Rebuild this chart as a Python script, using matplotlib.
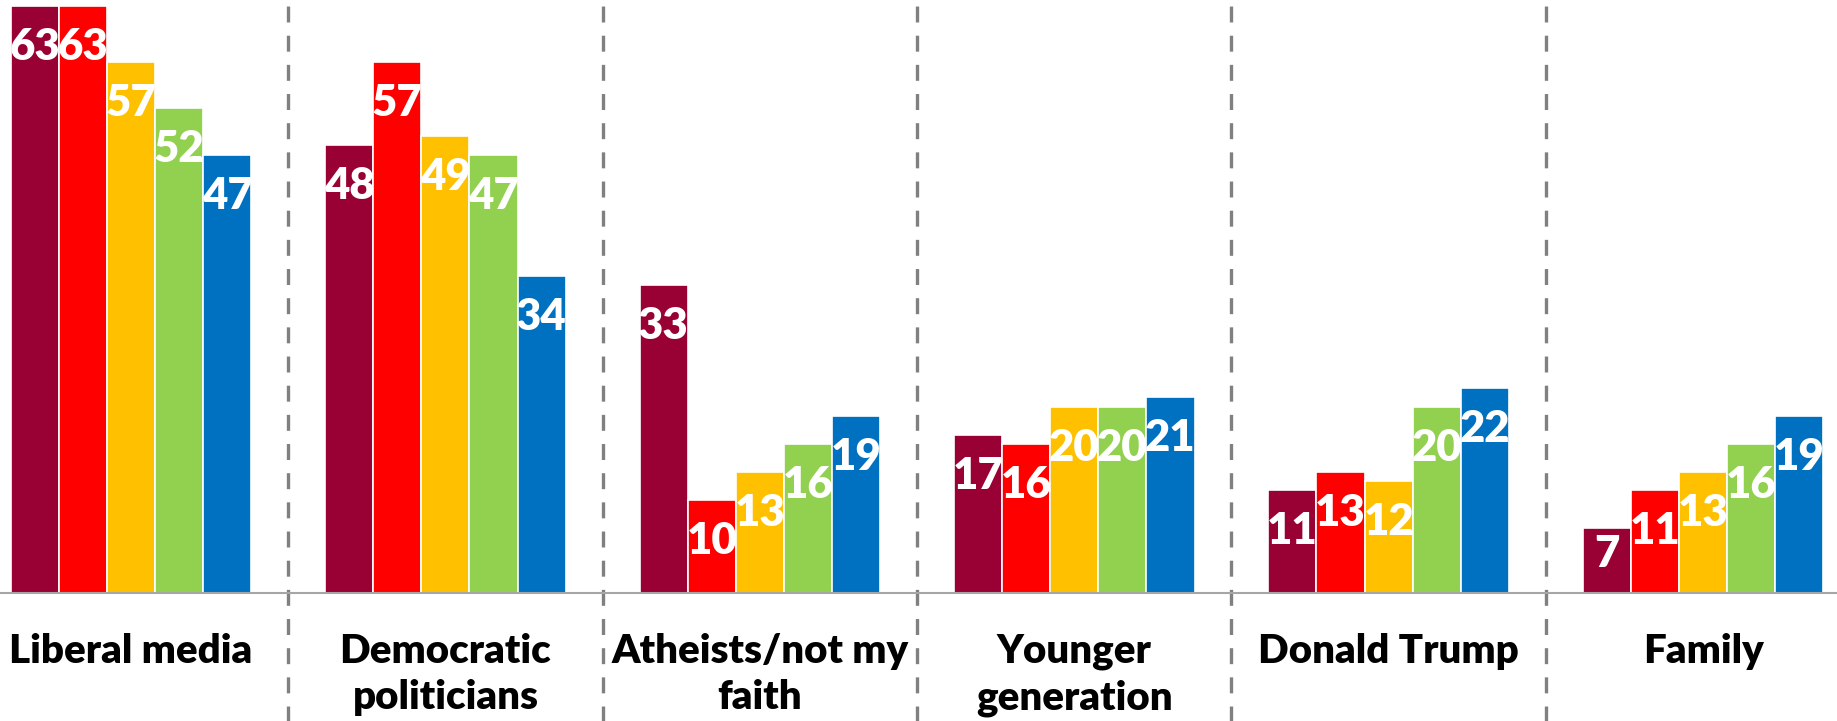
import numpy as np
import matplotlib
matplotlib.use("Agg")
import matplotlib.pyplot as plt

plt.rcParams['font.family'] = ['Lato', 'DejaVu Sans']
plt.rcParams['lines.scale_dashes'] = False

# data
categories  = ['Liberal media', 'Democratic\npoliticians', 'Atheists/not my\nfaith',
               'Younger\ngeneration', 'Donald Trump', 'Family']
series_1    = [63, 48, 33, 17, 11, 7]
series_2    = [63, 57, 10, 16, 13, 11]
series_3    = [57, 49, 13, 20, 12, 13]
series_4    = [52, 47, 16, 20, 20, 16]
series_5    = [47, 34, 19, 21, 22, 19]
all_series  = [series_1, series_2, series_3, series_4, series_5]
colors      = ['#990033', '#FF0000', '#FFC000', '#92D050', '#0070C0']

fig = plt.figure(figsize=(18.37, 7.21), dpi=100)
ax = fig.add_axes([0, 0.1775, 1, 0.8225])

x = np.arange(len(categories))
step = 0.153
px_per_unit = 593 / 63.6

for i, (vals, col) in enumerate(zip(all_series, colors)):
    xpos = x + (i - 2) * step
    ax.bar(xpos, vals, width=step, color=col, edgecolor='white', linewidth=1.2)
    for xp, v in zip(xpos, vals):
        h_px = v * px_per_unit
        off = min(41, h_px - 39)
        ax.annotate(str(v), (xp, v), xytext=(0, -off), textcoords='offset pixels',
                    ha='center', va='center', color='white', fontsize=31.5,
                    fontweight='heavy')

ax.set_xlim(-0.4167, 5.426)
ax.set_ylim(0, 63.6)

# dashed separators between groups, running below the axis too
for sep in x[:-1] + 0.5:
    ax.axvline(sep, ymin=-0.23, ymax=1, color='#808080', lw=2.4,
               linestyle=(0, (11.5, 9.5)), clip_on=False)

ax.set_xticks(x)
ax.set_xticklabels(categories, fontsize=29, fontweight='heavy', linespacing=1.3)
ax.tick_params(axis='x', length=0, pad=29)
ax.set_yticks([])
for s in ['top', 'left', 'right']:
    ax.spines[s].set_visible(False)
ax.spines['bottom'].set_color('#A6A6A6')
ax.spines['bottom'].set_linewidth(1.5)

fig.savefig('out.png', dpi=100)
